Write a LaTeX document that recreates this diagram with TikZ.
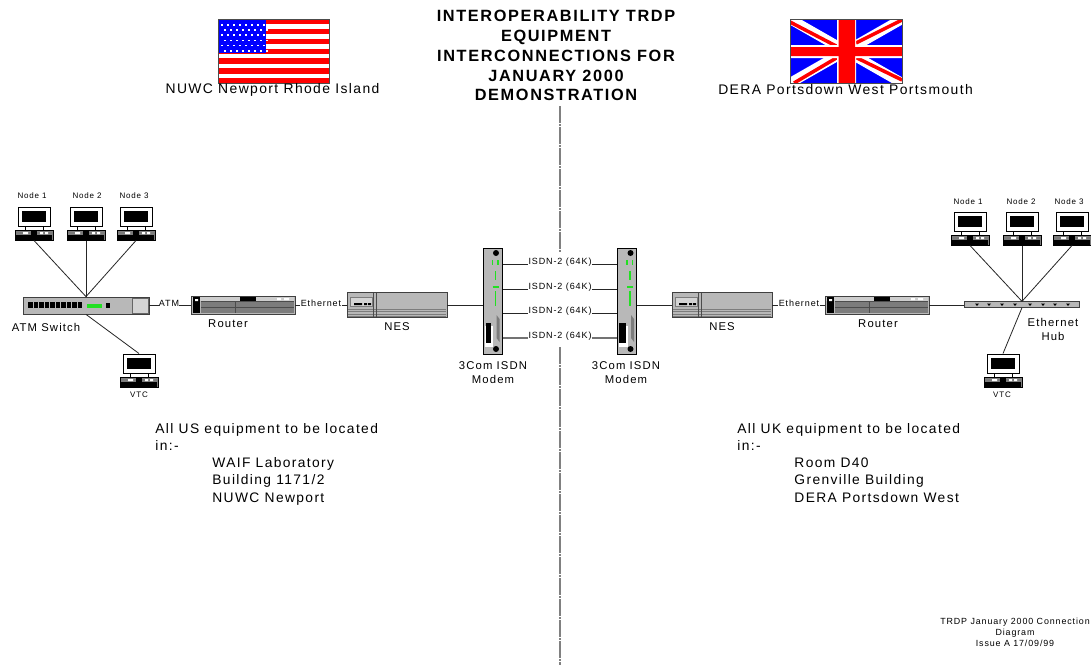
\documentclass[tikz,border=0pt]{standalone}
\usepackage{fontspec}
\setmainfont{Liberation Sans}[LetterSpace=10]
\usetikzlibrary{calc}
\definecolor{casegrey}{HTML}{B8B8B8}
\definecolor{darkgrey}{HTML}{7C7C7C}
\definecolor{ledgreen}{HTML}{22E022}
\definecolor{flagblue}{HTML}{0000FF}
\definecolor{flagred}{HTML}{FF0000}

\begin{document}
\begin{tikzpicture}[
  x=1pt, y=-1pt, line width=.8pt,
  wire/.style={draw=black!85, line width=.8pt},
  caselab/.style={font=\fontsize{11.3}{14}\selectfont, inner sep=0pt, align=center},
  sitelab/.style={font=\fontsize{13.9}{16}\selectfont, inner sep=0pt, align=center},
  smalllab/.style={font=\fontsize{8}{10}\selectfont, inner sep=0pt, align=center},
  linklab/.style={font=\fontsize{9}{10}\selectfont, inner sep=0pt, align=center},
  notes/.style={font=\fontsize{13.8}{17.5}\selectfont, inner sep=0pt, align=left, anchor=north west},
  body/.style={draw=black!75, fill=casegrey, inner sep=0pt},
  pics/pcset/.style={code={
    \node[draw=black, fill=white, line width=1pt, minimum width=32pt, minimum height=19pt, inner sep=0pt] (-mon) at (0,9.5) {};
    \fill[black] (-12,3.5) rectangle (12,15);
    \draw[fill=white] (-9,19) rectangle (9,23);
    \node[draw=black, fill=darkgrey, line width=1pt, minimum width=38pt, minimum height=10pt, inner sep=0pt] (-base) at (0,28) {};
    \fill[black] (-18,28) rectangle (18,32.5);
    \fill[white] (-11,25) rectangle (-6,27) (6,25) rectangle (9,27) (11,25) rectangle (14,27);
    \fill[black] (-3,24) rectangle (3,28);
  }},
  pics/routerset/.style={code={
    \node[body, minimum width=104pt, minimum height=18pt] (-box) at (0,0) {};
    \fill[casegrey!70!white] (-51,-8) rectangle (51,-4);
    \fill[darkgrey] (-42,-3) rectangle (51,8);
    \draw[black!70] (-42,2.5) -- (51,2.5) (-8,-3) -- (-8,8) (-42,-3.5) -- (51,-3.5);
    \fill[black] (-3,-8) rectangle (13,-4);
    \fill[black] (-50,-8) rectangle (-43,8);
    \fill[white] (-48,-6) rectangle (-45,-4) (34,-7) rectangle (38,-5) (41,-7) rectangle (46,-5);
  }},
  pics/nesset/.style={code={
    \node[body, minimum width=100pt, minimum height=25pt] (-box) at (0,0) {};
    \foreach \y in {4,6.5,9,11} { \draw[darkgrey, line width=.7pt] (-49,\y) -- (49,\y); }
    \draw[black!70] (-24,-12) -- (-24,12) (-21,-12) -- (-21,12);
    \draw[darkgrey, fill=casegrey!60!white, line width=.7pt] (-47,-8) rectangle (-25,1);
    \fill[black] (-43,-2) rectangle (-35,0) (-33,-2) rectangle (-30,0) (-29,-2) rectangle (-26,0);
  }},
  pics/modemset/.style args={#1/#2}{code={
    \node[draw=black, fill=casegrey, line width=1pt, minimum width=19pt, minimum height=106pt, inner sep=0pt] (-box) at (0,0) {};
    \fill[black] (3.5,-48) circle (3pt) (3.5,48) circle (3pt);
    \draw[ledgreen, line width=1.3pt] (0,-41) -- (0,-36) (5.5,-41) -- (5.5,-36) (3,-30) -- (3,-21)
      (0,-14) -- (6,-14) (3,-10) -- (3,5);
    \fill[darkgrey] (4,14) -- (7,18) -- (7,41) -- (4,37) -- cycle;
    \fill[white] (-8,25) rectangle (.5,46);
    \fill[black] (#1,22) rectangle (#2,42);
  }},
]
  \useasboundingbox (0,0) rectangle (1091,665);
  \fill[white] (0,0) rectangle (1091,665);

  % Heading and the dividing line.
  \node[font=\fontsize{16.3}{19.8}\selectfont\bfseries, align=center, inner sep=0pt, anchor=north] (title) at (556,10)
    {INTEROPERABILITY TRDP\\EQUIPMENT\\INTERCONNECTIONS FOR\\JANUARY 2000\\DEMONSTRATION};
  \coordinate (divtop) at (560,106);
  \coordinate (divmida) at (560,252);
  \coordinate (divmidb) at (560,347);
  \coordinate (divbot) at (560,665);
  \draw[black!50, line width=1.3pt, dash pattern=on 17pt off 1pt on 2pt off 1pt] (divtop) -- (divmida) (divmidb) -- (divbot);

  % Flags.
  \begin{scope}
    \clip (218,19) rectangle (329,83);
    \fill[white] (218,19) rectangle (329,83);
    \foreach \s in {0,...,6} { \fill[flagred] (218,19+\s*9.85) rectangle (329,19+\s*9.85+5.3); }
    \fill[flagblue] (218,19) rectangle (266,53);
    \foreach \r in {0,...,5} { \foreach \c in {0,...,7} {
      \fill[white] ({221+\c*6+mod(\r,2)*3},{24+\r*5.2}) rectangle +(1.6,1.6);
    } }
  \end{scope}
  \draw[black!70, line width=1pt] (218,19) rectangle (329,83);
  \begin{scope}
    \clip (790,19) rectangle (902,83);
    \fill[flagblue] (790,19) rectangle (902,83);
    \draw[white, line width=10pt] (790,19) -- (902,83) (790,83) -- (902,19);
    \draw[flagred, line width=3.5pt] (790,22) -- (838,47) (856,43) -- (902,20);
    \draw[flagred, line width=3.5pt] (794,83) -- (838,57) (855,57) -- (902,80);
    \fill[white] (837,19) rectangle (856,83) (790,45) rectangle (902,58);
    \fill[flagred] (838.5,19) rectangle (855,83) (790,47) rectangle (902,56);
  \end{scope}
  \draw[black!70, line width=1pt] (790,19) rectangle (902,83);
  \node[sitelab] (usname) at (272.5,90) {NUWC Newport Rhode Island};
  \node[sitelab] (ukname) at (845.5,90) {DERA Portsdown West Portsmouth};

  % Left site: hosts, switch and router.
  \foreach \n/\x/\y in {na/34/207, nb/86/207, nc/136/207, nv/139/354, ra/970/212, rb/1022/212, rc/1072/212, rv/1003/354} {
    \pic (\n) at (\x,\y) {pcset};
  }
  \foreach \n/\t/\x/\y in {lna/Node 1/32/196, lnb/Node 2/87/196, lnc/Node 3/134/196, lnv/VTC/139/395,
      lra/Node 1/968/202, lrb/Node 2/1021/202, lrc/Node 3/1069/202, lrv/VTC/1002/395} {
    \node[smalllab] (\n) at (\x,\y) {\t};
  }
  \node[body, minimum width=126pt, minimum height=17pt] (sw) at (86,305.5) {};
  \draw[black!60, fill=casegrey!60!white, line width=.6pt] (132,298) rectangle (148.5,313.5);
  \foreach \x in {28,33.5,39,44.5,50,55.5,61,66.5,72,77.5} { \fill[black] (\x,302) rectangle +(4.6,6); }
  \fill[ledgreen] (87,304) rectangle (102,308);
  \fill[black] (106,303) rectangle (110,308);
  \node[caselab] (lbsw) at (46,327) {ATM Switch};
  \pic (rta) at (243,305) {routerset};
  \node[caselab] (lbrta) at (228,324) {Router};
  \pic (nea) at (397,305) {nesset};
  \node[caselab] (lbnea) at (397,327) {NES};
  \pic (moa) at (492.5,301) {modemset=-6.5/-1.5};
  \node[caselab] (lbmoa) at (493,372.5) {3Com ISDN\\Modem};

  % Right site: the same chain mirrored, ending on the hub.
  \pic (neb) at (722,305) {nesset};
  \node[caselab] (lbneb) at (722,327) {NES};
  \pic (rtb) at (877,305) {routerset};
  \node[caselab] (lbrtb) at (878,324) {Router};
  \pic (mob) at (627,301) {modemset=-8.5/-1};
  \node[caselab] (lbmob) at (626,372.5) {3Com ISDN\\Modem};
  \node[body, minimum width=115pt, minimum height=5.5pt] (hub) at (1022,304.5) {};
  \foreach \x in {977,989,1002,1015,1030,1043,1055,1068} { \fill[black] (\x-2,303.5) -- (\x+2,303.5) -- (\x,306) -- cycle; }
  \node[caselab] (lbhub) at (1053,329) {Ethernet\\Hub};

  % Link labels.
  \node[linklab] (atm) at (169,303) {ATM};
  \node[linklab] (etha) at (321,303) {Ethernet};
  \node[linklab] (ethb) at (799,303) {Ethernet};
  \foreach \i/\y in {1/264, 2/289, 3/313, 4/338} {
    \coordinate (lev\i) at (560,\y);
    \node[linklab] (isdn\i) at (560,\y-2) {ISDN-2 (64K)};
  }

  % Connectors.
  \draw[wire] (na-base.south) -- (sw.north);
  \draw[wire] (nb-base.south) -- (sw.north);
  \draw[wire] (nc-base.south) -- (sw.north);
  \draw[wire] (sw.south) -- (nv-mon.north);
  \draw[wire] (sw.east) -- (atm.west |- sw.east);
  \draw[wire] (atm.east |- rta-box.west) -- (rta-box.west);
  \draw[wire] (rta-box.east) -- (etha.west |- rta-box.east);
  \draw[wire] (etha.east |- nea-box.west) -- (nea-box.west);
  \draw[wire] (nea-box.east) -- (moa-box.west |- nea-box.east);
  \draw[wire] (mob-box.east |- neb-box.west) -- (neb-box.west);
  \draw[wire] (neb-box.east) -- (ethb.west |- neb-box.east);
  \draw[wire] (ethb.east |- rtb-box.west) -- (rtb-box.west);
  \draw[wire] (rtb-box.east) -- (hub.west |- rtb-box.east);
  \draw[wire] (ra-base.south) -- (hub.north);
  \draw[wire] (rb-base.south) -- (hub.north);
  \draw[wire] (rc-base.south) -- (hub.north);
  \draw[wire] (hub.south) -- (rv-mon.north);
  \foreach \i in {1,2,3} {
    \draw[wire] (moa-box.east |- lev\i) -- (isdn\i.west |- lev\i);
    \draw[wire] (isdn\i.east |- lev\i) -- (mob-box.west |- lev\i);
  }
  \draw[wire, draw=black!55, line width=1.1pt] (moa-box.east |- lev4) -- (isdn4.west |- lev4);
  \draw[wire, draw=black!55, line width=1.1pt] (isdn4.east |- lev4) -- (mob-box.west |- lev4);

  % Location notes and issue block.
  \node[notes] (usnote) at (155,423) {All US equipment to be located\\in:-};
  \node[notes] (usroom) at (212,457) {WAIF Laboratory\\Building 1171/2\\NUWC Newport};
  \node[notes] (uknote) at (737,423) {All UK equipment to be located\\in:-};
  \node[notes] (ukroom) at (794,457) {Room D40\\Grenville Building\\DERA Portsdown West};
  \node[font=\fontsize{8.9}{11}\selectfont, align=center, inner sep=0pt, anchor=north] (issue) at (1015,618)
    {TRDP January 2000 Connection\\Diagram\\Issue A 17/09/99};
\end{tikzpicture}
\end{document}
